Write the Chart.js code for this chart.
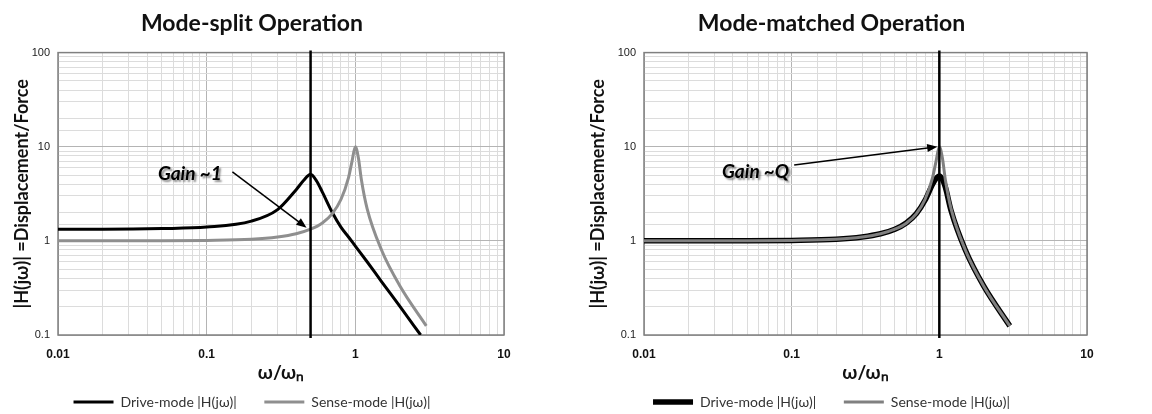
<!DOCTYPE html>
<html>
<head>
<meta charset="utf-8">
<script src="https://cdn.jsdelivr.net/npm/chart.js@4.4.0/dist/chart.umd.min.js"></script>
<style>
  html, body { margin: 0; padding: 0; background: #fff; }
  .wrap { display: flex; width: 1152px; height: 414px; }
  .cell { width: 576px; height: 414px; }
</style>
</head>
<body>
<div class="wrap">
  <div class="cell"><canvas id="splitChart" width="576" height="414"></canvas></div>
  <div class="cell"><canvas id="matchedChart" width="576" height="414"></canvas></div>
</div>
<script>
// ---- values (x = w/wn, y = |H(jw)|) ----
const splitDriveX = [0.01, 0.02, 0.05, 0.1, 0.2, 0.3, 0.4, 0.45, 0.5, 0.55, 0.6, 0.7, 0.8, 0.9, 1.0, 1.2, 1.5, 2.0, 2.75];
const splitDriveY = [1.33, 1.33, 1.35, 1.4, 1.62, 2.15, 3.5, 4.4, 5.1, 4.3, 3.3, 2.0, 1.4, 1.1, 0.88, 0.6, 0.37, 0.2, 0.1];

const splitSenseX = [0.01, 0.05, 0.1, 0.2, 0.3, 0.4, 0.5, 0.6, 0.7, 0.8, 0.9, 0.95, 1.0, 1.05, 1.1, 1.2, 1.5, 2.0, 3.0];
const splitSenseY = [1.0, 1.0, 1.01, 1.04, 1.1, 1.19, 1.33, 1.55, 1.95, 2.75, 4.7, 7.0, 10, 7.5, 4.4, 2.2, 0.8, 0.33, 0.125];

const matchedDriveX = [0.01, 0.05, 0.1, 0.2, 0.3, 0.4, 0.5, 0.6, 0.7, 0.8, 0.9, 0.95, 1.0, 1.05, 1.1, 1.2, 1.5, 2.0, 3.0];
const matchedDriveY = [1.0, 1.0, 1.01, 1.04, 1.1, 1.19, 1.33, 1.56, 1.95, 2.7, 4.0, 4.6, 4.9, 4.5, 3.7, 2.1, 0.8, 0.33, 0.125];

const matchedSenseX = [0.01, 0.05, 0.1, 0.2, 0.3, 0.4, 0.5, 0.6, 0.7, 0.8, 0.9, 0.95, 1.0, 1.05, 1.1, 1.2, 1.5, 2.0, 3.0];
const matchedSenseY = [1.0, 1.0, 1.01, 1.04, 1.1, 1.19, 1.33, 1.55, 1.95, 2.75, 4.7, 7.0, 10, 7.5, 4.4, 2.2, 0.8, 0.33, 0.125];

// vertical marker lines (drive frequency)
const splitMarkerX = 0.5;
const matchedMarkerX = 1;
const markerSpan = [0.093, 105];

// axis ranges
const xRange = [0.01, 10];
const yRange = [0.1, 100];

const seriesNames = ['Drive-mode |H(jω)|\u2003\u2002', 'Sense-mode |H(jω)|'];
const chartTitles = ['Mode-split Operation', 'Mode-matched Operation'];

// arrow notes, positioned in data space
const splitNote = { text: 'Gain ~1', at: [0.077, 5.1], from: [0.149, 5.4], to: [0.47, 1.38] };
const matchedNote = { text: 'Gain ~Q', at: [0.057, 5.4], from: [0.104, 6.4], to: [0.97, 10] };

function toPoints(xs, ys) {
    return xs.map((x, i) => ({ x: x, y: ys[i] }));
}

function isDecade(v) {
    const l = Math.log10(v);
    return Math.abs(l - Math.round(l)) < 1e-6;
}

// frame round the plot area
const framePlugin = {
    id: 'plotFrame',
    beforeDatasetsDraw(chart) {
        const a = chart.chartArea, ctx = chart.ctx;
        ctx.save();
        ctx.strokeStyle = '#808080';
        ctx.lineWidth = 1.5;
        ctx.strokeRect(a.left, a.top, a.right - a.left, a.bottom - a.top);
        ctx.restore();
    }
};

// "Gain ~" text plus arrow
const notePlugin = {
    id: 'gainNote',
    afterDatasetsDraw(chart, args, opts) {
        const note = opts.note;
        if (!note) return;
        const sx = chart.scales.x, sy = chart.scales.y, ctx = chart.ctx;
        const x1 = sx.getPixelForValue(note.from[0]), y1 = sy.getPixelForValue(note.from[1]);
        const x2 = sx.getPixelForValue(note.to[0]), y2 = sy.getPixelForValue(note.to[1]);
        const ang = Math.atan2(y2 - y1, x2 - x1), len = 11;
        ctx.save();
        ctx.strokeStyle = '#000';
        ctx.fillStyle = '#000';
        ctx.lineWidth = 1.5;
        ctx.beginPath();
        ctx.moveTo(x1, y1);
        ctx.lineTo(x2 - 6 * Math.cos(ang), y2 - 6 * Math.sin(ang));
        ctx.stroke();
        ctx.beginPath();
        ctx.moveTo(x2, y2);
        ctx.lineTo(x2 - len * Math.cos(ang - 0.38), y2 - len * Math.sin(ang - 0.38));
        ctx.lineTo(x2 - len * Math.cos(ang + 0.38), y2 - len * Math.sin(ang + 0.38));
        ctx.closePath();
        ctx.fill();
        ctx.font = 'italic bold 19px Lato';
        ctx.textAlign = 'center';
        ctx.textBaseline = 'middle';
        ctx.shadowColor = 'rgba(0,0,0,0.45)';
        ctx.shadowOffsetX = 2;
        ctx.shadowOffsetY = 2;
        ctx.shadowBlur = 2;
        ctx.fillText(note.text, sx.getPixelForValue(note.at[0]), sy.getPixelForValue(note.at[1]));
        ctx.restore();
    }
};

function createChart(canvasId, opt) {
    const ctx = document.getElementById(canvasId);
    return new Chart(ctx, {
        type: 'scatter',
        data: {
            datasets: [
                {
                    label: seriesNames[0],
                    data: opt.drive,
                    showLine: true,
                    borderColor: '#000000',
                    backgroundColor: '#000000',
                    borderWidth: opt.driveWidth,
                    pointRadius: 0,
                    pointStyle: 'line',
                    cubicInterpolationMode: 'monotone',
                    order: 2
                },
                {
                    label: seriesNames[1],
                    data: opt.sense,
                    showLine: true,
                    borderColor: opt.senseColor,
                    backgroundColor: opt.senseColor,
                    borderWidth: opt.senseWidth,
                    pointRadius: 0,
                    pointStyle: 'line',
                    cubicInterpolationMode: 'monotone',
                    order: 1
                },
                {
                    label: 'marker',
                    marker: true,
                    data: [{ x: opt.markerX, y: markerSpan[0] }, { x: opt.markerX, y: markerSpan[1] }],
                    showLine: true,
                    borderColor: '#000000',
                    borderWidth: 2.5,
                    pointRadius: 0,
                    clip: false,
                    order: 0
                }
            ]
        },
        options: {
            responsive: false,
            animation: false,
            layout: { padding: { left: 0, right: opt.padRight, top: 0, bottom: -5 } },
            scales: {
                x: {
                    type: 'logarithmic',
                    min: xRange[0],
                    max: xRange[1],
                    border: { display: false },
                    afterFit: s => { s.height = 50; },
                    grid: {
                        drawTicks: false,
                        color: c => isDecade(c.tick.value) ? '#b4b4b4' : '#dcdcdc'
                    },
                    ticks: {
                        autoSkip: false,
                        maxRotation: 0,
                        padding: 12,
                        color: '#111',
                        font: { family: 'Liberation Sans', size: 12, weight: 'bold' },
                        callback: v => isDecade(v) ? String(v) : ''
                    },
                    title: {
                        display: true,
                        text: 'ω/ωₙ',
                        color: '#111',
                        padding: { top: 0, bottom: 1 },
                        font: { family: 'Lato', size: 19, weight: 'bold' }
                    }
                },
                y: {
                    type: 'logarithmic',
                    min: yRange[0],
                    max: yRange[1],
                    border: { display: false },
                    afterFit: s => { s.width = opt.yWidth; },
                    grid: {
                        drawTicks: false,
                        color: c => isDecade(c.tick.value) ? '#b4b4b4' : '#dcdcdc'
                    },
                    ticks: {
                        autoSkip: false,
                        padding: 8,
                        color: '#222',
                        font: { family: 'Liberation Sans', size: 11 },
                        callback: v => isDecade(v) ? String(v) : ''
                    },
                    title: {
                        display: true,
                        text: '|H(jω)| =Displacement/Force',
                        color: '#111',
                        padding: { top: 11, bottom: 4 },
                        font: { family: 'Lato', size: 18, weight: 'bold' }
                    }
                }
            },
            plugins: {
                title: {
                    display: true,
                    text: opt.title,
                    color: '#111',
                    font: { family: 'Lato', size: 23, weight: 'bold' },
                    padding: { top: 10, bottom: 15 }
                },
                legend: {
                    position: 'bottom',
                    labels: {
                        usePointStyle: true,
                        pointStyleWidth: 40,
                        padding: 10,
                        color: '#333',
                        font: { family: 'Lato', size: 14 },
                        filter: (item, data) => !data.datasets[item.datasetIndex].marker,
                        sort: (a, b) => a.datasetIndex - b.datasetIndex
                    }
                },
                tooltip: { enabled: false },
                gainNote: { note: opt.note }
            }
        },
        plugins: [framePlugin, notePlugin]
    });
}

createChart('splitChart', {
    title: chartTitles[0],
    drive: toPoints(splitDriveX, splitDriveY),
    sense: toPoints(splitSenseX, splitSenseY),
    driveWidth: 3,
    senseWidth: 3,
    senseColor: '#8f8f8f',
    markerX: splitMarkerX,
    note: splitNote,
    yWidth: 58,
    padRight: 72
});

createChart('matchedChart', {
    title: chartTitles[1],
    drive: toPoints(matchedDriveX, matchedDriveY),
    sense: toPoints(matchedSenseX, matchedSenseY),
    driveWidth: 5.5,
    senseWidth: 3,
    senseColor: '#808080',
    markerX: matchedMarkerX,
    note: matchedNote,
    yWidth: 68,
    padRight: 65
});
</script>
</body>
</html>
